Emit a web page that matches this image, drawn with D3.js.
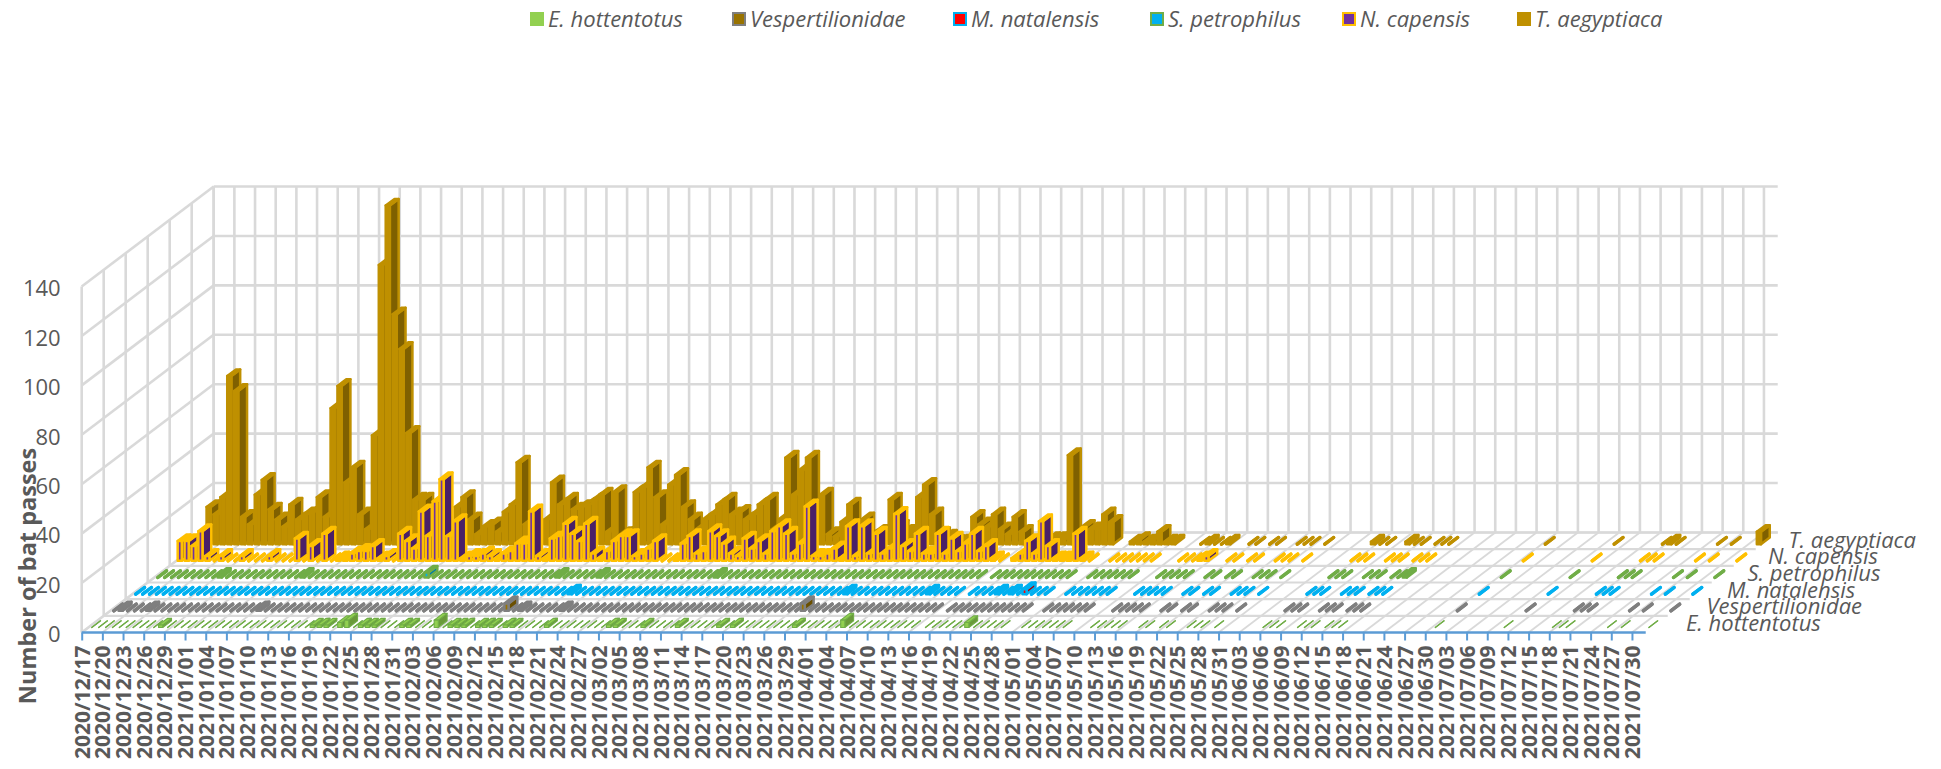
<!DOCTYPE html>
<html lang="en">
<head>
  <meta charset="UTF-8">
  <title>Number of bat passes</title>
  <script src="https://d3js.org/d3.v7.min.js"></script>
  <style>
    body { margin: 0; background: #fff; overflow: hidden; }
    text { font-family: 'Open Sans', sans-serif; fill: #595959; }
  </style>
</head>
<body>
  <svg id="chart" width="1941" height="769"></svg>
  <script>
    const tickLabels = [
      "2020/12/17","2020/12/20","2020/12/23","2020/12/26","2020/12/29","2021/01/01","2021/01/04","2021/01/07",
      "2021/01/10","2021/01/13","2021/01/16","2021/01/19","2021/01/22","2021/01/25","2021/01/28","2021/01/31",
      "2021/02/03","2021/02/06","2021/02/09","2021/02/12","2021/02/15","2021/02/18","2021/02/21","2021/02/24",
      "2021/02/27","2021/03/02","2021/03/05","2021/03/08","2021/03/11","2021/03/14","2021/03/17","2021/03/20",
      "2021/03/23","2021/03/26","2021/03/29","2021/04/01","2021/04/04","2021/04/07","2021/04/10","2021/04/13",
      "2021/04/16","2021/04/19","2021/04/22","2021/04/25","2021/04/28","2021/05/01","2021/05/04","2021/05/07",
      "2021/05/10","2021/05/13","2021/05/16","2021/05/19","2021/05/22","2021/05/25","2021/05/28","2021/05/31",
      "2021/06/03","2021/06/06","2021/06/09","2021/06/12","2021/06/15","2021/06/18","2021/06/21","2021/06/24",
      "2021/06/27","2021/06/30","2021/07/03","2021/07/06","2021/07/09","2021/07/12","2021/07/15","2021/07/18",
      "2021/07/21","2021/07/24","2021/07/27","2021/07/30"
    ];
    const speciesNames = ["E. hottentotus", "Vespertilionidae", "M. natalensis", "S. petrophilus", "N. capensis", "T. aegyptiaca"];

    // nights with no recording are null, nights recorded with no passes are 0
    const tAegyptiaca = [
      3,15,12,19,68,62,11,8,20,26,
      14,10,7,16,10,12,13,19,11,55,
      64,25,31,12,6,44,113,137,93,79,
      45,18,18,8,6,5,4,15,19,10,
      4,7,8,5,13,16,33,8,6,5,
      10,25,16,18,14,15,16,18,20,5,
      21,4,5,21,23,31,19,8,24,28,
      15,10,6,10,12,16,18,12,13,10,
      12,16,18,6,10,35,20,30,35,8,
      20,4,3,9,16,5,10,3,5,5,
      18,7,5,5,19,24,12,4,3,1,
      1,1,11,8,7,12,6,4,11,5,
      null,1,1,2,2,2,36,3,7,6,
      6,12,9,null,null,1,2,1,2,5,
      1,1,null,null,null,0,1,0,0,1,
      null,null,0,0,null,0,0,null,null,0,
      0,0,null,0,null,null,null,null,null,null,
      1,0,0,null,null,1,0,0,null,0,
      0,0,null,null,null,null,null,null,null,null,
      null,null,null,null,null,0,null,null,null,null,
      null,null,null,null,null,0,null,null,null,null,
      null,null,0,1,0,null,null,null,null,null,
      0,null,0,null,null,null,5
    ];
    const nCapensis = [
      8,8,6,12,2,0,2,0,0,2,
      0,0,0,2,0,0,0,9,0,6,
      0,11,0,1,1,3,4,4,6,1,
      2,0,11,8,5,20,10,24,33,10,
      16,1,2,2,3,2,1,3,4,7,
      7,20,2,1,9,10,15,11,8,15,
      3,1,4,8,10,10,2,3,5,8,
      0,0,1,7,10,3,4,12,10,7,
      3,2,9,5,8,3,12,14,11,3,
      7,22,2,2,3,5,1,14,2,14,
      3,11,3,5,19,6,4,11,3,3,
      11,3,9,4,7,11,4,6,1,0,
      null,1,3,8,3,16,6,1,1,1,
      11,1,0,null,null,0,0,0,0,0,
      0,0,null,null,null,0,0,0,1,2,
      null,null,0,0,null,0,0,null,null,0,
      0,0,null,0,null,null,null,null,null,null,
      0,0,0,null,null,0,0,0,null,0,
      0,0,null,null,null,null,null,null,null,null,
      null,null,null,null,null,0,null,null,null,null,
      null,null,null,null,null,0,null,null,null,null,
      null,null,0,0,0,null,null,null,null,null,
      0,null,0,null,null,null,0
    ];
    // the four rare groups: [night, passes], every other recorded night is 0
    const sPetrophilus = [[9,1],[21,1],[39,2],[58,1],[64,1],[81,1],[181,1]];
    const mNatalensis = [[63,1],[103,1],[115,1],[125,1],[127,1],[129,2]];
    const vespertilionidae = [[1,1],[5,1],[21,1],[57,3],[59,1],[65,1],[100,3]];
    const eHottentotus = [[10,1],[32,1],[33,1],[34,1],[36,2],[37,3],[39,1],[40,1],[41,1],[45,1],[46,1],[50,3],[52,1],[53,1],[54,1],
      [56,1],[57,1],[58,1],[60,1],[61,1],[66,1],[75,1],[76,1],[80,1],[85,1],[91,1],[93,1],[102,1],[109,3],[127,2]];

    const nights = d3.range(tAegyptiaca.length);
    const fromSparse = pairs => {
      const lookup = new Map(pairs);
      return nights.map(n => nCapensis[n] === null ? null : (lookup.get(n) || 0));
    };

    const styles = {
      "E. hottentotus":   { stroke: "#70ad47", front: "#92d050", side: "#6a9a3a", top: "#92d050", sw: 1.1, zeroSw: 1.2, swatchStroke: "#92d050" },
      "Vespertilionidae": { stroke: "#7f7f7f", front: "#997300", side: "#6b5000", top: "#7f7f7f", sw: 2.5, zeroSw: 3.4, swatchStroke: "#7f7f7f" },
      "M. natalensis":    { stroke: "#00b0f0", front: "#ff0000", side: "#b00000", top: "#00b0f0", sw: 2.5, zeroSw: 3.4, swatchStroke: "#00b0f0" },
      "S. petrophilus":   { stroke: "#70ad47", front: "#00b0f0", side: "#007ba8", top: "#70ad47", sw: 2.5, zeroSw: 3.4, swatchStroke: "#70ad47" },
      "N. capensis":      { stroke: "#ffc000", front: "#7030a0", side: "#4a2068", top: "#ffc000", sw: 2.5, zeroSw: 3.4, swatchStroke: "#ffc000" },
      "T. aegyptiaca":    { stroke: "#bf9000", front: "#bf9000", side: "#7f6000", top: "#a88000", sw: 2.5, zeroSw: 3.4, swatchStroke: "#bf9000" }
    };
    const seriesValues = {
      "E. hottentotus": fromSparse(eHottentotus),
      "Vespertilionidae": fromSparse(vespertilionidae),
      "M. natalensis": fromSparse(mNatalensis),
      "S. petrophilus": fromSparse(sPetrophilus),
      "N. capensis": nCapensis,
      "T. aegyptiaca": tAegyptiaca
    };

    const svg = d3.select("#chart");
    const gridColor = "#d9d9d9";

    // oblique box: the floor runs back 132px right and 100px up
    const x0 = 81.7, step = 6.89, depthX = 132, depthY = 100;
    const xBand = d3.scaleBand().domain(nights).range([x0, x0 + nights.length * step]).paddingInner(0.4).paddingOuter(0.2);
    const xTick = d3.scalePoint().domain(nights).range([x0, x0 + (nights.length - 1) * step]);
    const y = d3.scaleLinear().domain([0, 140]).range([632.5, 286.5]);
    const depth = d3.scaleLinear().domain([0, 6]).range([0, 1]);
    const row = d3.scaleBand().domain(speciesNames).range([0, 6]).paddingInner(0.6).paddingOuter(0.3);
    const project = (px, value, d) => [px + depth(d) * depthX, y(value) - depth(d) * depthY];

    const xRight = x0 + nights.length * step;
    const gridTicks = d3.range(0, 227, 3);
    const valueTicks = d3.range(0, 141, 20);
    const grid = svg.append("g").attr("fill", "none").attr("stroke", gridColor);
    const seg = (a, b, w) => grid.append("line").attr("x1", a[0]).attr("y1", a[1]).attr("x2", b[0]).attr("y2", b[1]).attr("stroke-width", w);

    // back wall and left wall
    valueTicks.forEach(v => {
      seg(project(x0, v, 6), project(xRight, v, 6), 2.6);
      seg(project(x0, v, 0), project(x0, v, 6), 2.6);
    });
    gridTicks.forEach(n => seg(project(xTick(n), 0, 6), project(xTick(n), 140, 6), 2.6));
    d3.range(0, 7).forEach(k => seg(project(x0, 0, k), project(x0, 140, k), 2.6));
    // floor
    d3.range(1, 7).forEach(k => seg(project(x0, 0, k), project(xRight, 0, k), 2.2));
    gridTicks.forEach(n => seg(project(xTick(n), 0, 0), project(xTick(n), 0, 6), 1.8));

    // bars, back row first and left to right so nearer bars cover farther ones
    const poly = d3.line();
    speciesNames.slice().reverse().forEach(name => {
      const st = styles[name];
      const d0 = row(name), d1 = d0 + row.bandwidth();
      const data = nights.filter(n => seriesValues[name][n] !== null);
      const v = n => seriesValues[name][n];
      const bars = svg.append("g")
        .attr("stroke", st.stroke).attr("stroke-linejoin", "round")
        .selectAll("g").data(data).join("g")
        .attr("stroke-width", n => v(n) === 0 ? st.zeroSw : st.sw);
      // a zero night collapses to one diagonal stroke on the floor
      const mid = n => xBand(n) + xBand.bandwidth() / 2;
      const l = n => v(n) === 0 ? mid(n) : xBand(n);
      const r = n => v(n) === 0 ? mid(n) : xBand(n) + xBand.bandwidth();
      bars.append("path").attr("fill", st.side).attr("d", n => poly([
        project(r(n), 0, d0), project(r(n), 0, d1), project(r(n), v(n), d1), project(r(n), v(n), d0)]) + "Z");
      bars.append("path").attr("fill", st.top).attr("d", n => poly([
        project(l(n), v(n), d0), project(r(n), v(n), d0), project(r(n), v(n), d1), project(l(n), v(n), d1)]) + "Z");
      bars.append("path").attr("fill", st.front).attr("d", n => poly([
        project(l(n), 0, d0), project(r(n), 0, d0), project(r(n), v(n), d0), project(l(n), v(n), d0)]) + "Z");
    });

    // value axis
    const yAxis = svg.append("g").attr("transform", `translate(${x0},0)`)
      .call(d3.axisLeft(y).tickValues(valueTicks).tickSize(0).tickPadding(21));
    yAxis.select(".domain").remove();
    yAxis.selectAll("text").attr("dy", "0.42em").style("font-size", "22px").style("font-family", "'Open Sans', sans-serif");

    // date axis, a label every third night
    const xAxis = svg.append("g").attr("transform", "translate(0,632.5)")
      .call(d3.axisBottom(xTick).tickValues(gridTicks).tickSize(8).tickFormat(n => tickLabels[n / 3]));
    xAxis.select(".domain").attr("stroke", "#5b9bd5").attr("stroke-width", 2.6).attr("d", `M${x0},0H${xRight}`);
    xAxis.selectAll(".tick line").attr("stroke", "#5b9bd5").attr("stroke-width", 2);
    xAxis.selectAll(".tick text")
      .attr("transform", "rotate(-90)").attr("text-anchor", "end")
      .attr("x", -13).attr("y", 0).attr("dy", "0.36em")
      .style("font-size", "21px").style("font-weight", 700).style("font-family", "'Open Sans', sans-serif").style("fill", "#595959");

    svg.append("text").attr("transform", "translate(28,576) rotate(-90)").attr("text-anchor", "middle")
      .attr("dy", "0.36em").style("font-size", "23.5px").style("font-weight", 700).text("Number of bat passes");

    // species names along the floor's right edge
    svg.append("g").selectAll("text").data(speciesNames).join("text")
      .attr("x", (d, i) => 1686 + i * 20.5)
      .attr("y", (d, i) => 631 - i * 16.7)
      .style("font-size", "22px").style("font-style", "italic")
      .text(d => d);

    // legend
    const legendX = [530, 732, 953, 1150, 1342, 1517];
    const legend = svg.append("g").selectAll("g").data(speciesNames).join("g")
      .attr("transform", (d, i) => `translate(${legendX[i]},19)`);
    legend.append("rect").attr("x", 1).attr("y", -6).attr("width", 12).attr("height", 12)
      .attr("fill", d => d === "T. aegyptiaca" ? "#bf9000" : styles[d].front)
      .attr("stroke", d => styles[d].swatchStroke).attr("stroke-width", 2);
    legend.append("text").attr("x", 18).attr("dy", "0.35em")
      .style("font-size", "22px").style("font-style", "italic").text(d => d);
  </script>
</body>
</html>
